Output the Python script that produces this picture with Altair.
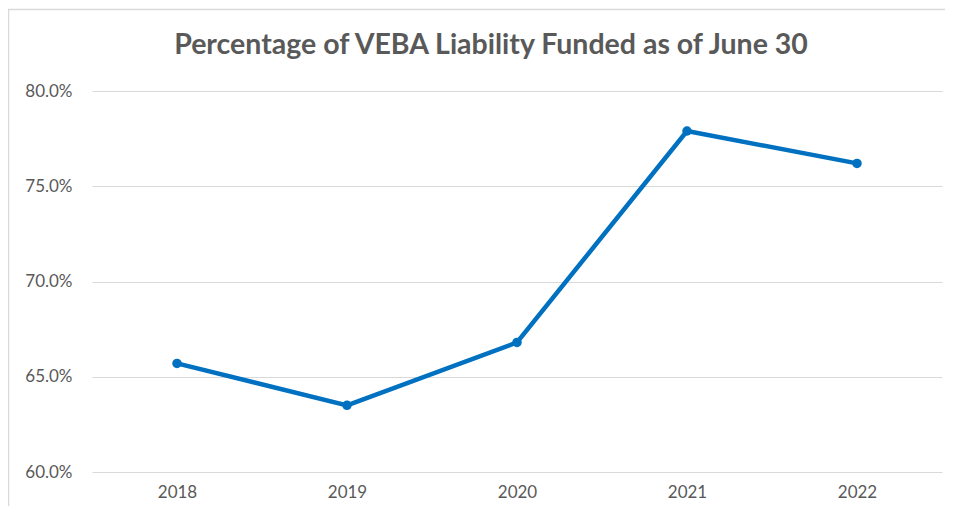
import altair as alt
import pandas as pd

years = ["2018", "2019", "2020", "2021", "2022"]
funded = [0.657, 0.635, 0.668, 0.779, 0.762]
y_ticks = [0.60, 0.65, 0.70, 0.75, 0.80]

df = pd.DataFrame({"year": years, "funded": funded})

LINE = "#0070C0"
GRID = "#D9D9D9"
TEXT = "#595959"
FONT = "Lato"

base = alt.Chart(df)

x = alt.X("year:N", sort=years, title=None,
          scale=alt.Scale(type="point", padding=0.5),
          axis=alt.Axis(labelAngle=0, ticks=False, domain=False, grid=False,
                        labelPadding=12, labelFontSize=17, labelColor=TEXT, labelFont=FONT))
y = alt.Y("funded:Q", title=None,
          scale=alt.Scale(domain=[0.6, 0.8], nice=False, zero=False),
          axis=alt.Axis(values=y_ticks, format=".1%", ticks=False, domain=False,
                        gridColor=GRID, gridWidth=1, labelPadding=20,
                        labelFontSize=17, labelColor=TEXT, labelFont=FONT))

line = base.mark_line(color=LINE, strokeWidth=4.5).encode(x=x, y=y)
pts = base.mark_point(color=LINE, filled=True, opacity=1, size=90).encode(x=x, y=y)

frame_top = alt.Chart(pd.DataFrame({"v": [0]})).mark_rule(color=GRID, strokeWidth=1.5).encode(
    x=alt.value(-84), x2=alt.value(870), y=alt.value(-81.5))
frame_left = alt.Chart(pd.DataFrame({"v": [0]})).mark_rule(color=GRID, strokeWidth=1.5).encode(
    x=alt.value(-83.5), y=alt.value(-82), y2=alt.value(430))

chart = alt.layer(frame_top, frame_left, line, pts).properties(
    width=850,
    height=381,
    background="white",
    autosize=alt.AutoSizeParams(type="none"),
    padding={"left": 84, "top": 83, "right": 3, "bottom": 34},
    title=alt.Title("Percentage of VEBA Liability Funded as of June 30",
                    fontSize=28.5, font=FONT, color=TEXT, fontWeight="bold",
                    anchor="middle", dx=-26, offset=-80, baseline="bottom"),
).configure_view(stroke="transparent", strokeWidth=0)

chart.save("out.html", embed_options={"renderer": "svg", "actions": False})
